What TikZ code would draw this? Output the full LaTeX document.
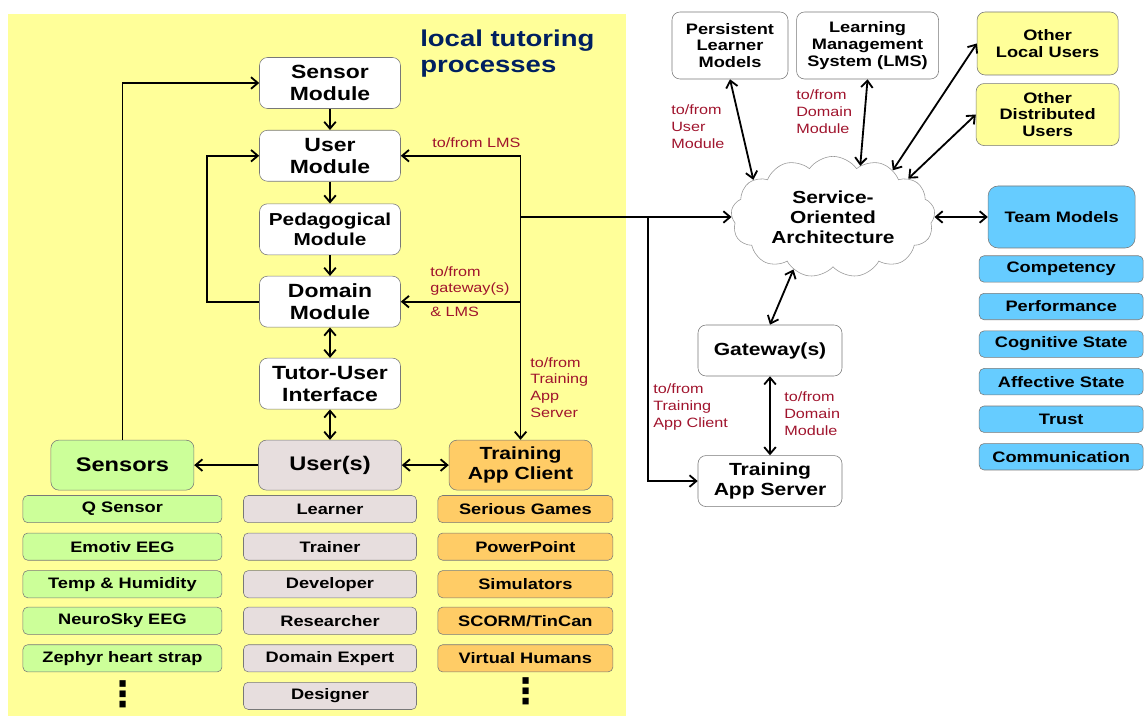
\documentclass[tikz,border=0pt]{standalone}
\usepackage{fontspec}
\setmainfont{Liberation Sans}[FakeStretch=1.2]
\newfontfamily\dotsfont{DejaVu Sans}
\usepackage{tikz}
\usetikzlibrary{positioning,arrows.meta,shapes.symbols,calc}
\definecolor{tutoryellow}{RGB}{255,255,153}
\definecolor{sensorgreen}{RGB}{204,255,153}
\definecolor{usergray}{RGB}{231,222,222}
\definecolor{apporange}{RGB}{255,204,102}
\definecolor{teamblue}{RGB}{102,204,255}
\definecolor{titlenavy}{RGB}{0,32,96}
\definecolor{linkred}{RGB}{160,20,45}
\definecolor{boxrule}{RGB}{120,120,120}
\definecolor{cloudrule}{RGB}{150,150,150}
\tikzset{
  module/.style={rectangle,rounded corners=0.2cm,draw=boxrule,fill=white,align=center,minimum width=3.525cm,minimum height=1.275cm,inner sep=1pt,font=\fontsize{13.6}{15.5}\selectfont\bfseries},
  hub/.style={rectangle,rounded corners=0.2cm,draw=boxrule,align=center,minimum width=3.575cm,minimum height=1.25cm,inner sep=1pt,font=\fontsize{14}{15.5}\selectfont\bfseries},
  farbox/.style={rectangle,rounded corners=0.2cm,draw=boxrule,fill=white,align=center,minimum height=1.675cm,inner sep=1pt,font=\fontsize{10.8}{12}\selectfont\bfseries},
  listitem/.style={rectangle,rounded corners=0.12cm,draw=boxrule,minimum height=0.68cm,inner sep=1pt,font=\fontsize{10.8}{12}\selectfont\bfseries},
  sensoritem/.style={listitem,fill=sensorgreen,minimum width=4.975cm},
  useritem/.style={listitem,fill=usergray,minimum width=4.325cm},
  appitem/.style={listitem,fill=apporange,minimum width=4.375cm},
  teamitem/.style={listitem,fill=teamblue,minimum width=4.1cm,minimum height=0.66cm},
  link/.style={text=linkred,align=left,anchor=west,inner sep=0pt,font=\fontsize{9.6}{12}\selectfont},
  moredots/.style={inner sep=0pt,font=\dotsfont\bfseries\fontsize{25}{25}\selectfont},
  edge/.style={-{Straight Barb[length=1.7mm,width=2.9mm]},line width=1.3pt},
  dedge/.style={{Straight Barb[length=1.7mm,width=2.9mm]}-{Straight Barb[length=1.7mm,width=2.9mm]},line width=1.3pt}
}
\begin{document}
\begin{tikzpicture}
  \useasboundingbox (0,0) rectangle (28.6,-18.025);
  \fill[tutoryellow] (0.2,-0.35) rectangle (15.65,-17.9);
  \node[anchor=west,align=left,inner sep=0pt,text=titlenavy,font=\fontsize{16.3}{18.4}\selectfont\bfseries] (ttl) at (10.5,-1.35) {local tutoring\\processes};
  % local tutoring modules
  \node[module] (sensmod) at (8.25,-2.075) {Sensor\\Module};
  \node[module,below=0.53cm of sensmod] (usermod) {User\\Module};
  \node[module,font=\fontsize{12.3}{14.2}\selectfont\bfseries,below=0.55cm of usermod] (pedmod) {Pedagogical\\Module};
  \node[module,below=0.52cm of pedmod] (dommod) {Domain\\Module};
  \node[module,below=0.76cm of dommod] (tuimod) {Tutor-User\\Interface};
  \node[hub,fill=usergray,below=0.76cm of tuimod] (users) {User(s)};
  \node[hub,fill=sensorgreen,left=1.6cm of users] (sensors) {Sensors};
  \node[hub,fill=apporange,font=\fontsize{12.5}{14.2}\selectfont\bfseries,right=1.175cm of users] (tac) {Training\\App Client};
  % sensors
  \node[sensoritem,below=0.12cm of sensors] (sq) {Q Sensor};
  \node[sensoritem,below=0.245cm of sq] (semo) {Emotiv EEG};
  \node[sensoritem,below=0.245cm of semo] (stemp) {Temp \& Humidity};
  \node[sensoritem,below=0.22cm of stemp] (sneuro) {NeuroSky EEG};
  \node[sensoritem,below=0.245cm of sneuro] (szephyr) {Zephyr heart strap};
  \node[moredots] (sdots) at (3.075,-17.35) {⋮};
  % users
  \node[useritem,below=0.12cm of users] (ulearner) {Learner};
  \node[useritem,below=0.245cm of ulearner] (utrainer) {Trainer};
  \node[useritem,below=0.245cm of utrainer] (udev) {Developer};
  \node[useritem,below=0.22cm of udev] (ures) {Researcher};
  \node[useritem,below=0.245cm of ures] (uexpert) {Domain Expert};
  \node[useritem,below=0.245cm of uexpert] (udesigner) {Designer};
  % training applications
  \node[appitem,below=0.12cm of tac,xshift=0.12cm] (agames) {Serious Games};
  \node[appitem,below=0.245cm of agames] (appt) {PowerPoint};
  \node[appitem,below=0.245cm of appt] (asim) {Simulators};
  \node[appitem,below=0.22cm of asim] (ascorm) {SCORM/TinCan};
  \node[appitem,below=0.245cm of ascorm] (avirtual) {Virtual Humans};
  \node[moredots] (adots) at (13.15,-17.28) {⋮};
  % distributed side
  \node[farbox,minimum width=2.9cm] (plm) at (18.25,-1.1375) {Persistent\\Learner\\Models};
  \node[farbox,minimum width=3.55cm,right=0.2cm of plm] (lms) {Learning\\Management\\System (LMS)};
  \node[farbox,fill=tutoryellow,minimum width=3.525cm,minimum height=1.575cm] (olu) at (26.19,-1.0875) {Other\\Local Users};
  \node[farbox,fill=tutoryellow,minimum width=3.575cm,minimum height=1.55cm,below=0.2cm of olu] (odu) {Other\\Distributed\\Users};
  \node[cloud,draw=cloudrule,fill=white,cloud puffs=13,cloud puff arc=110,aspect=1.7,minimum width=5.1cm,minimum height=3cm,inner sep=0pt,align=center,font=\fontsize{12.4}{14.2}\selectfont\bfseries] (soa) at (20.825,-5.425) {Service-\\Oriented\\Architecture};
  \node[rectangle,rounded corners=0.25cm,draw=boxrule,fill=teamblue,minimum width=3.675cm,minimum height=1.55cm,font=\fontsize{10.8}{12}\selectfont\bfseries] (team) at (26.54,-5.425) {Team Models};
  \node[teamitem,below=0.18cm of team,xshift=-0.01cm] (tcomp) {Competency};
  \node[teamitem,below=0.265cm of tcomp] (tperf) {Performance};
  \node[teamitem,below=0.265cm of tperf] (tcog) {Cognitive State};
  \node[teamitem,below=0.265cm of tcog] (taff) {Affective State};
  \node[teamitem,below=0.265cm of taff] (ttrust) {Trust};
  \node[teamitem,below=0.265cm of ttrust] (tcomm) {Communication};
  \node[module,minimum width=3.6cm,font=\fontsize{12.5}{14.2}\selectfont\bfseries] (gw) at (19.25,-8.7625) {Gateway(s)};
  \node[module,minimum width=3.6cm,font=\fontsize{12.5}{14.2}\selectfont\bfseries,below=1.975cm of gw] (tas) {Training\\App Server};
  % connector labels
  \node[link] (lbllms) at (10.8,-3.575) {to/from LMS};
  \node[link] (lblgw) at (10.75,-7.29) {to/from\\gateway(s)\\[5pt]\& LMS};
  \node[link] (lbltas) at (13.25,-9.69) {to/from\\Training\\App\\Server};
  \node[link] (lblum) at (16.775,-3.175) {to/from\\User\\Module};
  \node[link] (lbldm) at (19.9,-2.8) {to/from\\Domain\\Module};
  \node[link] (lbltac) at (16.325,-10.175) {to/from\\Training\\App Client};
  \node[link] (lbldm2) at (19.6,-10.35) {to/from\\Domain\\Module};
  % connectors
  \draw[edge] (sensmod) -- (usermod);
  \draw[edge] (usermod) -- (pedmod);
  \draw[edge] (pedmod) -- (dommod);
  \draw[dedge] (dommod) -- (tuimod);
  \draw[dedge] (tuimod) -- (users);
  \draw[edge] (users) -- (sensors);
  \draw[dedge] (users) -- (tac);
  \draw[edge] (sensors.north) |- (sensmod.west);
  \draw[edge] (dommod.west) -- ++(-1.3,0) |- (usermod.west);
  \draw[dedge] (usermod.east) -| (tac.north);
  \draw[edge] (tac.north |- dommod.east) -- (dommod.east);
  \draw[edge] (tac.north |- soa.west) -- (soa.west);
  \coordinate (tasjoint) at (16.2,-5.425);
  \draw[edge] (tasjoint) |- (tas.west);
  \draw[dedge] (plm.south) -- (soa.155);
  \draw[dedge] (lms.south) -- (soa.62);
  \draw[dedge] (olu.west) -- (soa.38);
  \draw[dedge] (odu.west) -- (soa.27);
  \draw[dedge] (soa.east) -- (team.west);
  \draw[dedge] (soa.233) -- (gw.north);
  \draw[dedge] (gw) -- (tas);
\end{tikzpicture}
\end{document}
